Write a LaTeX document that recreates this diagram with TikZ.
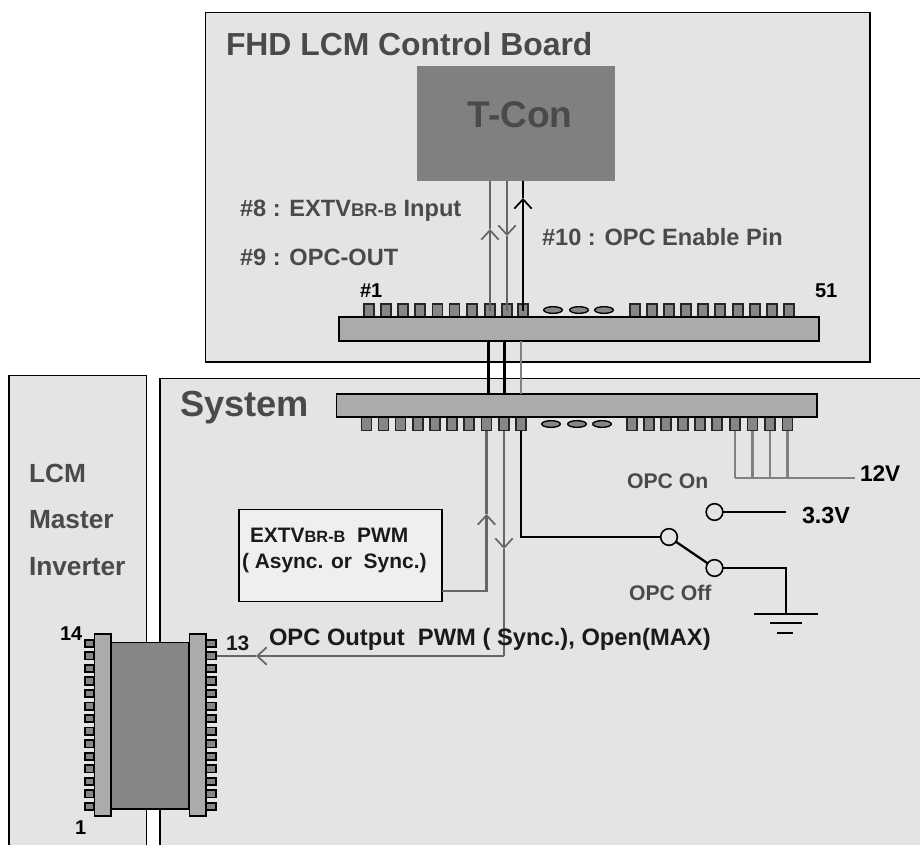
\documentclass[tikz,border=0pt]{standalone}
\usepackage{fontspec}
\setmainfont{Liberation Sans}
\usepackage{tikz}
\usetikzlibrary{arrows.meta,shapes.geometric}
\definecolor{panelgray}{HTML}{E4E4E4}
\definecolor{chipgray}{HTML}{868686}
\definecolor{bargray}{HTML}{ABABAB}
\definecolor{boxgray}{HTML}{EFEFEF}
\definecolor{tcongray}{HTML}{808080}
\definecolor{wiregray}{HTML}{666666}
\definecolor{textgray}{HTML}{4A4A4A}
\definecolor{textdark}{HTML}{1A1A1A}
\newcommand{\brb}{\scalebox{0.78}{BR-B}}
\tikzset{
  every picture/.style={x=0.75pt,y=-0.75pt,line join=miter},
  every node/.style={inner sep=0pt,outer sep=0pt},
  panel/.style={draw=black,fill=panelgray,line width=1.3pt},
  barbox/.style={draw=black,fill=bargray,line width=1.3pt,anchor=north west},
  pinbox/.style={draw=black!85,fill=chipgray,line width=1.1pt,minimum width=7.5pt,minimum height=10pt},
  pinside/.style={draw=black,fill=chipgray,line width=1.3pt,minimum width=7pt,minimum height=5.5pt},
  padoval/.style={draw=black,fill=chipgray,line width=1pt,ellipse,minimum width=14pt,minimum height=5pt},
  switchpt/.style={draw=black,fill=panelgray,line width=1.2pt,circle,minimum size=12.5pt},
  greywire/.style={draw=wiregray,line width=1.9pt},
  blackwire/.style={draw=black,line width=1.7pt},
  barbtip/.style={-{Straight Barb[length=7pt,width=13pt,line width=1.3pt]}},
  headtext/.style={anchor=base west,text=textgray,font=\bfseries\fontsize{23.9}{28}\selectfont},
  sidetext/.style={anchor=base west,text=textgray,font=\bfseries\fontsize{19.7}{22}\selectfont},
  pintext/.style={anchor=base west,text=textgray,font=\bfseries\fontsize{17.7}{19}\selectfont},
  darktext/.style={anchor=base west,text=textdark,font=\bfseries\fontsize{17.8}{19}\selectfont},
  smalltext/.style={anchor=base west,text=textdark,font=\bfseries\fontsize{15.7}{18}\selectfont},
  tinytext/.style={anchor=base west,text=black,font=\bfseries\fontsize{15}{18}\selectfont},
}
\begin{document}
\begin{tikzpicture}
\useasboundingbox (0,0) rectangle (920,845);
\clip (0,0) rectangle (920,845);
\fill[white] (0,0) rectangle (920,845);
\draw[panel] (205.5,12.5) rectangle (870,362);
\draw[panel] (9,375.5) rectangle (146.5,860);
\draw[panel] (160,378.5) rectangle (940,860);
\node[fill=tcongray,anchor=north west,minimum width=148.5pt,minimum height=86pt] (tcon) at (417,66) {};
\node[anchor=base,text=textgray,font=\bfseries\fontsize{27.8}{32}\selectfont] (tconlabel) at (520,128) {T-Con};
\node[headtext] (boardlabel) at (226,56) {FHD LCM Control Board};
\node[headtext,font=\bfseries\fontsize{27.2}{32}\selectfont] (systemlabel) at (180,416.5) {System};
\node[sidetext] (lcmlabel) at (29,482) {LCM};
\node[sidetext] (masterlabel) at (29,528) {Master};
\node[sidetext] (inverterlabel) at (29,575) {Inverter};
% connector bars
\foreach \n/\x in {1/369,2/386,3/403,4/420,5/437.5,6/454.5,7/472,8/490,9/507,10/523,11/635,12/652,13/669,14/686,15/703,16/720,17/738,18/755,19/772,20/789}
  \node[pinbox] (tp\n) at (\x,310.5) {};
\foreach \n/\x in {1/553,2/579,3/604}
  \node[padoval] (to\n) at (\x,310) {};
\node[barbox,minimum width=360pt,minimum height=18pt] (topbar) at (339,317) {};
\foreach \n/\x in {1/366.5,2/383.5,3/400.5,4/418,5/435,6/452,7/469,8/486.5,9/504,10/521,11/632,12/649,13/666,14/683,15/700,16/717,17/735,18/752.5,19/770,20/787.5}
  \node[pinbox] (bp\n) at (\x,424) {};
\foreach \n/\x in {1/551,2/577,3/602}
  \node[padoval] (bo\n) at (\x,424) {};
\node[barbox,minimum width=360.5pt,minimum height=17.5pt] (botbar) at (336.5,394) {};
\coordinate (lka) at (488.5,341);
\coordinate (lkb) at (504.5,341);
\coordinate (lkc) at (521,341);
\draw[blackwire,line width=2.2pt] (lka) -- (lka |- botbar.north);
\draw[blackwire,line width=2.2pt] (lkb) -- (lkb |- botbar.north);
\draw[draw=tcongray,line width=2.2pt] (lkc) -- (lkc |- botbar.north);
% wires to t-con
\coordinate (arra) at (490,229);
\coordinate (arrb) at (507,236);
\coordinate (arrc) at (523,198);
\draw[greywire,barbtip] (tp8.center) -- (arra);
\draw[greywire] (arra) -- (tp8 |- tcon.south);
\draw[greywire,barbtip] (tp9 |- tcon.south) -- (arrb);
\draw[greywire] (arrb) -- (tp9.center);
\draw[blackwire,barbtip] (tp10.center) -- (arrc);
\draw[blackwire] (arrc) -- (tp10 |- tcon.south);
\node[pintext] (pinviii) at (240,216) {\#8 : EXTV\brb{} Input};
\node[pintext] (pinix) at (240,265) {\#9 : OPC-OUT};
\node[pintext] (pinx) at (542,245) {\#10 : OPC Enable Pin};
\node[tinytext] (firstpin) at (360,297) {\#1};
\node[tinytext] (lastpin) at (815,297) {51};
% pwm box
\node[draw=black,fill=boxgray,line width=1.3pt,anchor=north west,minimum width=152pt,minimum height=69pt] (pwmbox) at (239,509.5) {};
\node[smalltext] (pwmtop) at (250,542) {EXTV\brb{}\ \ PWM};
\node[smalltext] (pwmbot) at (242,568) {( Async. or\ \ Sync.)};
\coordinate (boxout) at (442,591);
\coordinate (arrd) at (486.5,514);
\coordinate (arre) at (504,549);
\coordinate (corner) at (504,656);
\coordinate (arrf) at (256,656);
\coordinate (icin) at (217,656);
\draw[greywire,barbtip] (boxout) -| (arrd);
\draw[greywire] (arrd) -- (bp8.south);
\draw[greywire,barbtip] (bp9.south) -- (arre);
\draw[greywire] (arre) -- (corner);
\draw[greywire,barbtip] (corner) -- (arrf);
\draw[greywire] (arrf) -- (icin);
\node[darktext] (outlabel) at (269,645) {OPC Output\ \ PWM ( Sync.), Open(MAX)};
% inverter ic
\node[draw=black,fill=chipgray,line width=1.3pt,anchor=north west,minimum width=58.5pt,minimum height=125pt] (icbody) at (111,642.5) {};
\foreach \n in {1,...,14} {
  \pgfmathsetmacro{\py}{806.5-(\n-1)*12.55}
  \node[pinside] (lp\n) at (89.5,\py) {};
  \node[pinside] (rp\n) at (211,\py) {};
}
\node[barbox,minimum width=12.5pt,minimum height=136.5pt] (icleft) at (94.5,634) {};
\node[barbox,minimum width=12.5pt,minimum height=136.5pt] (icright) at (189.5,634) {};
\node[tinytext] (icxiv) at (60,640) {14};
\node[smalltext] (icxiii) at (226,650) {13};
\node[tinytext] (ici) at (75,834) {1};
% 12V rail
\coordinate (railend) at (855,478);
\foreach \n in {17,18,19,20}
  \draw[draw=tcongray,line width=1.7pt] (bp\n.south) -- (bp\n.south |- railend);
\draw[draw=tcongray,line width=1.7pt] (bp17.south |- railend) -- (railend);
\node[darktext,text=black,font=\bfseries\fontsize{17}{19}\selectfont] (twelve) at (860,481) {12V};
% switch
\node[switchpt] (swa) at (669,537) {};
\node[switchpt] (swb) at (714.5,568) {};
\node[switchpt] (swc) at (714.5,512) {};
\coordinate (vthree) at (786,512);
\coordinate (gnd) at (786,614);
\draw[blackwire] (bp10.south) |- (swa.west);
\draw[blackwire] (swa) -- (swb);
\draw[blackwire] (swc.east) -- (vthree);
\draw[blackwire] (swb.east) -| (gnd);
\draw[blackwire] (754,614) -- (818,614);
\draw[blackwire] (770,623) -- (802,623);
\draw[blackwire] (777,633) -- (793,633);
\node[darktext,text=black,font=\bfseries\fontsize{17.5}{19}\selectfont] (threev) at (802,523) {3.3V};
\node[smalltext,text=textgray,font=\bfseries\fontsize{15.9}{18}\selectfont] (onlabel) at (627,488) {OPC On};
\node[smalltext,text=textgray,font=\bfseries\fontsize{15.9}{18}\selectfont] (offlabel) at (629,600) {OPC Off};
\end{tikzpicture}
\end{document}
